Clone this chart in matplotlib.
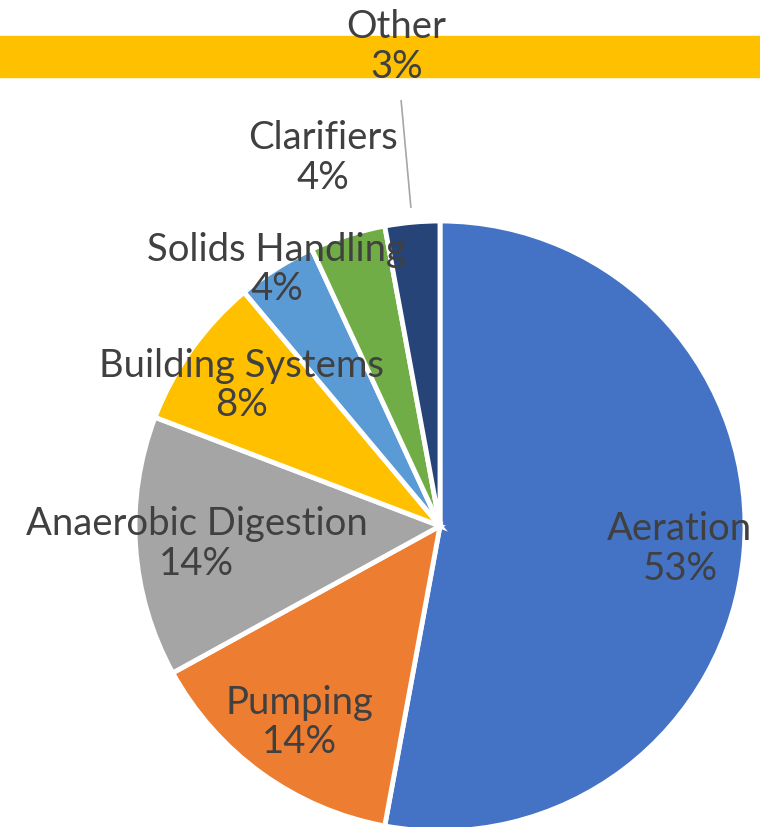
import matplotlib
matplotlib.use("Agg")
import matplotlib.pyplot as plt
import numpy as np

plt.rcParams["font.family"] = ["Lato", "DejaVu Sans"]

categories = ["Aeration", "Pumping", "Anaerobic Digestion", "Building Systems",
              "Solids Handling", "Clarifiers", "Other"]
shares = [52.9, 14.1, 13.8, 8.1, 4.2, 4.0, 2.9]
colors = ["#4472C4", "#ED7D31", "#A5A5A5", "#FFC000", "#5B9BD5", "#70AD47", "#264478"]

# label distance from centre, as a fraction of the radius
label_r = [0.79, 0.79, 0.80, 0.80, 1.0, 1.27, 1.58]

W, H = 760, 828
CX, CY, R = 440, H - 527, 305
TEXT = "#404040"

fig = plt.figure(figsize=(W / 100, H / 100), dpi=100)
ax = fig.add_axes([0, 0, 1, 1])

# stray yellow band across the top of the original
ax.axhspan(H - 78, H - 37, color="#FFC000", zorder=1)

wedges, _ = ax.pie(shares, colors=colors, startangle=90, counterclock=False,
                   center=(CX, CY), radius=R, frame=True,
                   wedgeprops=dict(edgecolor="white", linewidth=3.5))
ax.set_xlim(0, W)
ax.set_ylim(0, H)
ax.axis("off")

for w, name, val, lr in zip(wedges, categories, shares, label_r):
    mid = np.deg2rad((w.theta1 + w.theta2) / 2)
    x = CX + lr * R * np.cos(mid)
    y = CY + lr * R * np.sin(mid)
    ax.text(x, y, f"{name}\n{val:.0f}%", ha="center", va="center",
            fontsize=27.5, color=TEXT, linespacing=1.12, zorder=5)
    if name == "Other":
        ax.plot([CX + 1.05 * R * np.cos(mid), CX + 1.40 * R * np.cos(mid)],
                [CY + 1.05 * R * np.sin(mid), CY + 1.40 * R * np.sin(mid)],
                color="#A6A6A6", linewidth=1.2, zorder=4)

fig.savefig("out.png", dpi=100)
